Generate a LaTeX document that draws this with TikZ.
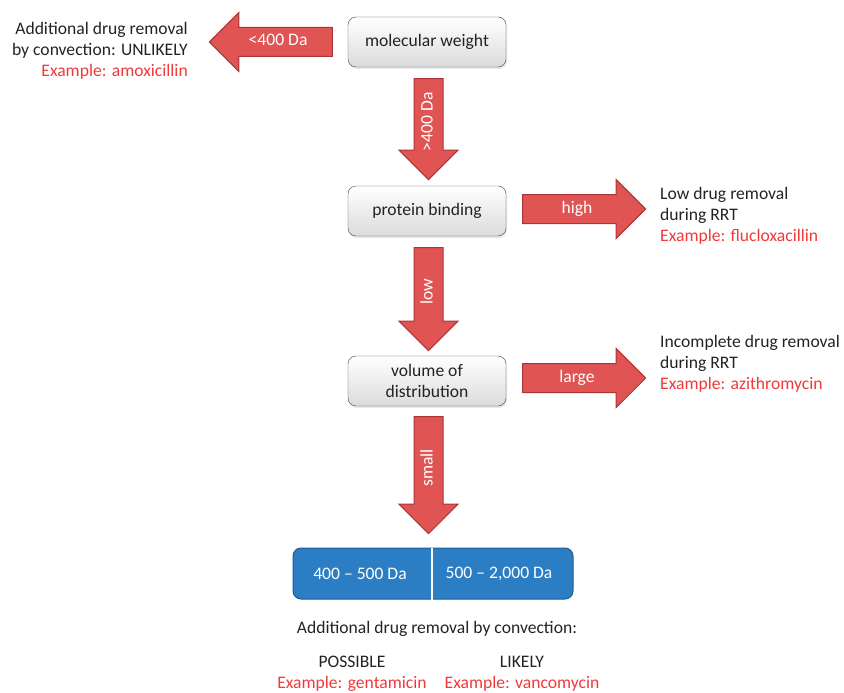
\documentclass[tikz,border=0pt]{standalone}
\usepackage{fontspec}
\setmainfont{Carlito}
\usetikzlibrary{shapes.arrows}
\usetikzlibrary{shadows}
\usetikzlibrary{positioning}
\definecolor{arrowred}{RGB}{224,84,84}
\definecolor{arrowedge}{RGB}{172,52,52}
\definecolor{exred}{RGB}{240,58,58}
\definecolor{dablue}{RGB}{44,126,196}
\definecolor{dablueedge}{RGB}{32,92,148}
\definecolor{txt}{RGB}{35,35,35}

\begin{document}
\begin{tikzpicture}[x=1pt, y=1pt,
    every node/.style={font=\fontsize{17.6}{21}\selectfont, text=txt},
    stepbox/.style={draw=gray!55!black, rounded corners=8pt, top color=white,
      bottom color=gray!28, minimum width=158pt, minimum height=50pt,
      align=center, drop shadow={opacity=0.18, shadow xshift=1pt, shadow yshift=-2pt}},
    bigarrow/.style={single arrow, shape border rotate=180, draw=arrowedge,
      fill=arrowred, text=white, line width=1pt, text height=11pt, text depth=3pt,
      inner ysep=7pt, inner xsep=0pt, single arrow head extend=15pt,
      single arrow tip angle=90},
    note/.style={align=left, anchor=west, inner xsep=0pt}]
  \useasboundingbox (0,0) rectangle (844,-693);

  \node[stepbox] (mw) at (427,-42) {molecular weight};
  \node[stepbox] (pb) at (427,-211) {protein binding};
  \node[stepbox] (vd) at (427,-381) {volume of\\distribution};

  \node[bigarrow, minimum height=123pt, anchor=tail] (lt) at ([xshift=-15pt]mw.west) {<400 Da};
  \node[bigarrow, rotate=90, minimum height=101pt, anchor=tail] (gt) at ([xshift=1.5pt,yshift=-11pt]mw.south) {>400 Da};
  \node[bigarrow, shape border rotate=0, minimum height=123pt, anchor=tail] (hi) at ([xshift=16pt,yshift=2pt]pb.east) {high};
  \node[bigarrow, rotate=90, minimum height=103pt, anchor=tail] (lo) at ([xshift=1.5pt,yshift=-11pt]pb.south) {low};
  \node[bigarrow, shape border rotate=0, minimum height=123pt, anchor=tail] (la) at ([xshift=16pt,yshift=3pt]vd.east) {large};
  \node[bigarrow, rotate=90, minimum height=117pt, anchor=tail] (sm) at ([xshift=1.5pt,yshift=-10pt]vd.south) {small};

  \node[align=right, anchor=east, inner xsep=0pt] (ltn) at (188,-51)
    {Additional drug removal\\by convection: UNLIKELY\\\textcolor{exred}{Example: amoxicillin}};
  \node[note] (hin) at (660,-216)
    {Low drug removal\\during RRT\\\textcolor{exred}{Example: flucloxacillin}};
  \node[note] (lan) at (660,-364)
    {Incomplete drug removal\\during RRT\\\textcolor{exred}{Example: azithromycin}};

  \node[draw=dablueedge, fill=dablue, line width=1pt, rounded corners=8pt,
    minimum width=280pt, minimum height=51pt] (da) at (433,-573.5) {};
  \draw[white, line width=2.5pt] ([xshift=-1pt]da.north) -- ([xshift=-1pt]da.south);
  \node[text=white] (da1) at (360,-574) {400 – 500 Da};
  \node[text=white] (da2) at (499,-574) {500 – 2,000 Da};

  \node (conv) at (437,-629) {Additional drug removal by convection:};
  \node[align=center] (pos) at (352,-673.5) {POSSIBLE\\\textcolor{exred}{Example: gentamicin}};
  \node[align=center] (lik) at (522,-673.5) {LIKELY\\\textcolor{exred}{Example: vancomycin}};
\end{tikzpicture}
\end{document}
